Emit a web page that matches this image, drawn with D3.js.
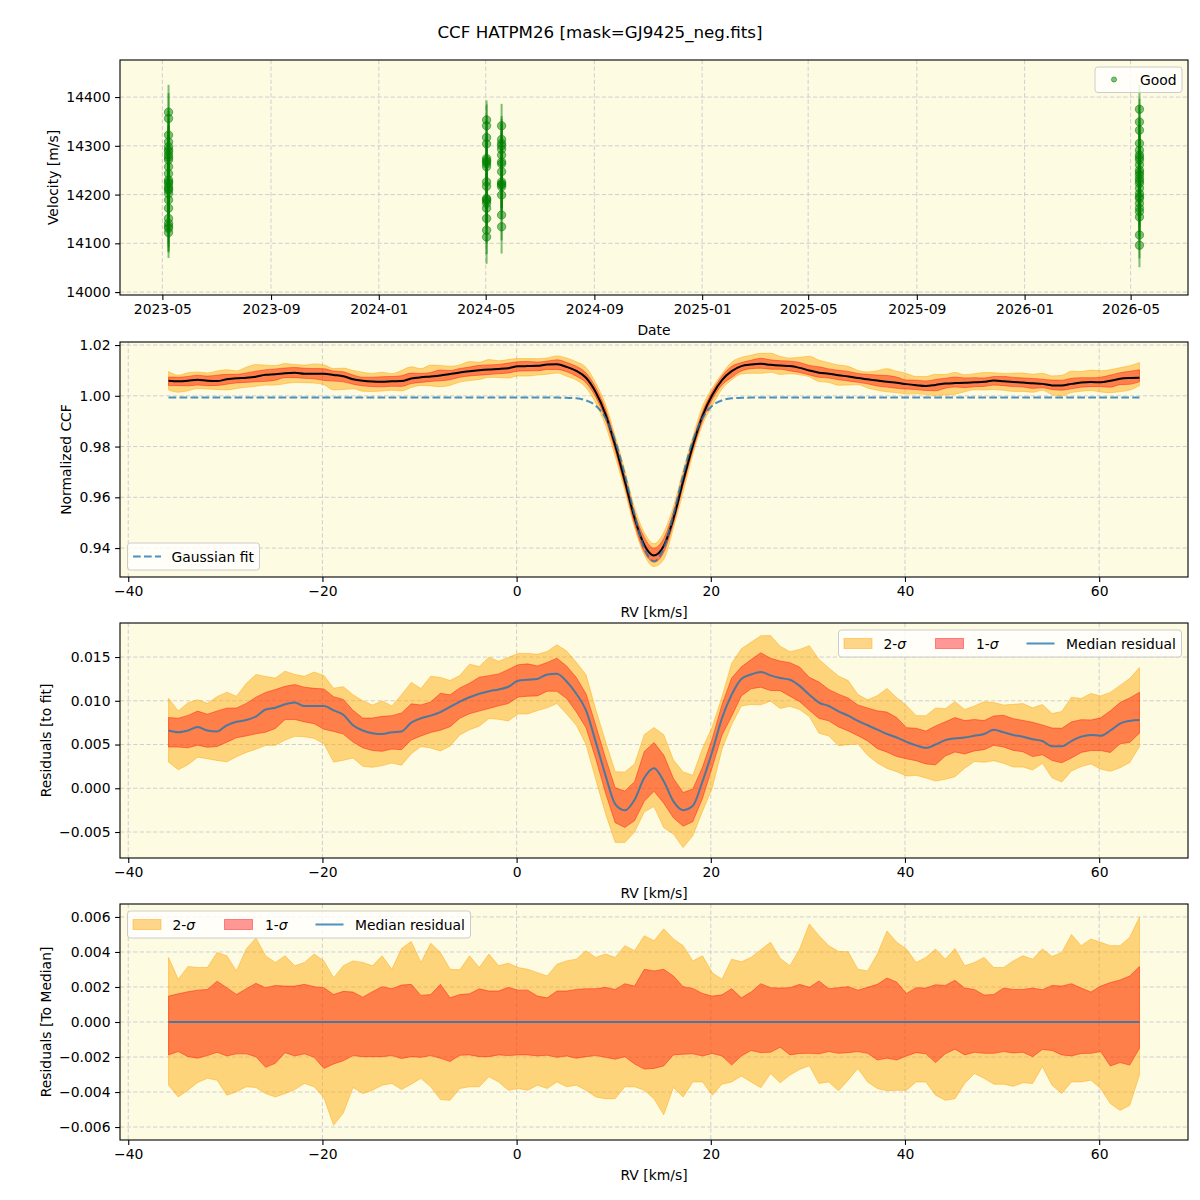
<!DOCTYPE html>
<html><head><meta charset="utf-8">
<script src="https://cdn.jsdelivr.net/npm/d3@7/dist/d3.min.js"></script>
<style>
html,body{margin:0;padding:0;background:#fff;}
svg{display:block;}
text{font-family:"DejaVu Sans",sans-serif;}
</style></head><body>
<svg id="chart" width="1200" height="1200"></svg>
<script>
// ================= DATA =================
const chartTitle = "CCF HATPM26 [mask=GJ9425_neg.fits]";
const epochDates = ["2023-05-08", "2024-05-02", "2024-05-19", "2026-05-11"];
const velEpoch1 = [14369,14356,14322,14308,14298,14292,14288,14281,14276,14271,14257,14243,14230,14226,14223,14216,14212,14209,14202,14189,14172,14151,14141,14135,14131,14122];
const errEpoch1 = [56,52,50,48,51,49,53,50,47,52,50,49,51,48,50,53,49,51,50,48,52,50,49,51,50,52];
const velEpoch2 = [14353,14341,14317,14304,14274,14270,14267,14263,14257,14226,14217,14192,14190,14187,14182,14172,14151,14127,14113];
const errEpoch2 = [40,44,46,48,50,47,52,49,51,48,50,53,49,51,48,50,52,49,55];
const velEpoch3 = [14341,14313,14305,14300,14293,14281,14267,14263,14247,14226,14222,14220,14216,14199,14158,14134];
const errEpoch3 = [45,48,50,47,52,49,51,48,50,53,49,51,50,48,52,55];
const velEpoch4 = [14375,14349,14332,14305,14291,14281,14276,14271,14261,14250,14245,14240,14233,14228,14223,14213,14202,14196,14192,14182,14172,14165,14154,14117,14096];
const errEpoch4 = [50,48,51,49,52,50,47,51,49,50,53,48,50,52,49,51,50,48,52,50,49,51,50,48,45];

const dateTickLabels = ["2023-05","2023-09","2024-01","2024-05","2024-09","2025-01","2025-05","2025-09","2026-01","2026-05"];
const velTicks = [14000,14100,14200,14300,14400];
const rvTicks = [-40,-20,0,20,40,60];
const ccfTicks = [0.94,0.96,0.98,1.00,1.02];
const resTicks = [-0.005,0.000,0.005,0.010,0.015];
const devTicks = [-0.006,-0.004,-0.002,0.000,0.002,0.004,0.006];

const rv = [-35.85,-34.85,-33.85,-32.85,-31.85,-30.85,-29.85,-28.85,-27.85,-26.85,
-25.85,-24.85,-23.85,-22.85,-21.85,-20.85,-19.85,-18.85,-17.85,-16.85,
-15.85,-14.85,-13.85,-12.85,-11.85,-10.85,-9.85,-8.85,-7.85,-6.85,
-5.85,-4.85,-3.85,-2.85,-1.85,-0.85,0.15,1.15,2.15,3.15,
4.15,5.15,6.15,7.15,8.15,9.15,10.15,11.15,12.15,13.15,
14.15,15.15,16.15,17.15,18.15,19.15,20.15,21.15,22.15,23.15,
24.15,25.15,26.15,27.15,28.15,29.15,30.15,31.15,32.15,33.15,
34.15,35.15,36.15,37.15,38.15,39.15,40.15,41.15,42.15,43.15,
44.15,45.15,46.15,47.15,48.15,49.15,50.15,51.15,52.15,53.15,
54.15,55.15,56.15,57.15,58.15,59.15,60.15,61.15,62.15,63.15,64.15];

const gaussFit = [0.9993,0.9993,0.9993,0.9993,0.9993,0.9993,0.9993,0.9993,0.9993,0.9993,
0.9993,0.9993,0.9993,0.9993,0.9993,0.9993,0.9993,0.9993,0.9993,0.9993,
0.9993,0.9993,0.9993,0.9993,0.9993,0.9993,0.9993,0.9993,0.9993,0.9993,
0.9993,0.9993,0.9993,0.9993,0.9993,0.9993,0.9993,0.9993,0.9993,0.9993,
0.9993,0.9992,0.9990,0.9982,0.9961,0.9913,0.9823,0.9688,0.9531,0.9400,
0.9348,0.9400,0.9531,0.9688,0.9823,0.9913,0.9961,0.9982,0.9990,0.9992,
0.9993,0.9993,0.9993,0.9993,0.9993,0.9993,0.9993,0.9993,0.9993,0.9993,
0.9993,0.9993,0.9993,0.9993,0.9993,0.9993,0.9993,0.9993,0.9993,0.9993,
0.9993,0.9993,0.9993,0.9993,0.9993,0.9993,0.9993,0.9993,0.9993,0.9993,
0.9993,0.9993,0.9993,0.9993,0.9993,0.9993,0.9993,0.9993,0.9993,0.9993,0.9993];

const resMedian = [0.0066,0.0064,0.0066,0.0070,0.0066,0.0065,0.0072,0.0076,0.0078,0.0082,
0.0090,0.0092,0.0096,0.0098,0.0094,0.0094,0.0094,0.0089,0.0084,0.0072,
0.0066,0.0063,0.0062,0.0064,0.0065,0.0075,0.0080,0.0083,0.0087,0.0093,
0.0099,0.0104,0.0108,0.0111,0.0113,0.0116,0.0123,0.0124,0.0125,0.0130,
0.0131,0.0122,0.0108,0.0089,0.0053,0.0015,-0.0018,-0.0025,-0.0013,0.0012,
0.0023,0.0008,-0.0015,-0.0025,-0.0020,0.0008,0.0042,0.0080,0.0107,0.0125,
0.0130,0.0133,0.0129,0.0126,0.0124,0.0117,0.0107,0.0098,0.0094,0.0088,
0.0083,0.0077,0.0072,0.0067,0.0062,0.0058,0.0053,0.0049,0.0046,0.0050,
0.0055,0.0057,0.0058,0.0060,0.0062,0.0067,0.0064,0.0061,0.0059,0.0056,
0.0054,0.0048,0.0048,0.0054,0.0059,0.0061,0.0060,0.0066,0.0074,0.0077,0.0078];

const dev2Upper = [0.00368,0.00244,0.00317,0.00311,0.00311,0.00397,0.00378,0.00292,0.00417,0.00480,
0.00378,0.00340,0.00378,0.00321,0.00340,0.00388,0.00349,0.00253,0.00321,0.00349,
0.00340,0.00321,0.00378,0.00301,0.00420,0.00460,0.00340,0.00450,0.00397,0.00301,
0.00298,0.00378,0.00311,0.00388,0.00321,0.00336,0.00311,0.00301,0.00282,0.00263,
0.00330,0.00349,0.00359,0.00407,0.00369,0.00388,0.00369,0.00436,0.00407,0.00493,
0.00464,0.00532,0.00474,0.00436,0.00349,0.00378,0.00282,0.00244,0.00359,0.00344,
0.00369,0.00413,0.00455,0.00363,0.00321,0.00417,0.00560,0.00493,0.00436,0.00403,
0.00401,0.00301,0.00292,0.00388,0.00520,0.00455,0.00417,0.00340,0.00369,0.00417,
0.00359,0.00420,0.00321,0.00340,0.00369,0.00311,0.00311,0.00349,0.00378,0.00359,
0.00417,0.00374,0.00397,0.00500,0.00436,0.00474,0.00455,0.00436,0.00436,0.00484,0.00599];

const dev1Upper = [0.00148,0.00161,0.00173,0.00182,0.00186,0.00233,0.00196,0.00157,0.00190,0.00221,
0.00196,0.00209,0.00205,0.00205,0.00215,0.00202,0.00196,0.00157,0.00175,0.00171,
0.00142,0.00173,0.00202,0.00190,0.00211,0.00215,0.00152,0.00157,0.00215,0.00138,
0.00157,0.00161,0.00190,0.00177,0.00177,0.00198,0.00182,0.00182,0.00148,0.00138,
0.00177,0.00177,0.00186,0.00190,0.00190,0.00198,0.00186,0.00219,0.00205,0.00301,
0.00292,0.00301,0.00263,0.00202,0.00192,0.00163,0.00148,0.00155,0.00190,0.00138,
0.00171,0.00219,0.00196,0.00194,0.00196,0.00215,0.00198,0.00234,0.00190,0.00196,
0.00202,0.00182,0.00198,0.00215,0.00251,0.00228,0.00163,0.00196,0.00194,0.00213,
0.00209,0.00238,0.00194,0.00186,0.00154,0.00157,0.00194,0.00186,0.00186,0.00194,
0.00184,0.00209,0.00205,0.00219,0.00194,0.00171,0.00205,0.00225,0.00240,0.00263,0.00317];

const dev1Lower = [-0.00188,-0.00169,-0.00198,-0.00207,-0.00192,-0.00173,-0.00194,-0.00182,-0.00182,-0.00198,
-0.00259,-0.00236,-0.00175,-0.00194,-0.00182,-0.00202,-0.00265,-0.00240,-0.00221,-0.00192,
-0.00198,-0.00198,-0.00198,-0.00192,-0.00209,-0.00198,-0.00202,-0.00192,-0.00207,-0.00226,
-0.00190,-0.00188,-0.00198,-0.00198,-0.00188,-0.00192,-0.00188,-0.00188,-0.00194,-0.00190,
-0.00202,-0.00194,-0.00207,-0.00198,-0.00192,-0.00202,-0.00213,-0.00198,-0.00240,-0.00269,
-0.00265,-0.00251,-0.00188,-0.00184,-0.00182,-0.00194,-0.00180,-0.00194,-0.00246,-0.00194,
-0.00163,-0.00175,-0.00173,-0.00144,-0.00188,-0.00180,-0.00179,-0.00182,-0.00169,-0.00179,
-0.00175,-0.00169,-0.00179,-0.00217,-0.00207,-0.00217,-0.00194,-0.00175,-0.00182,-0.00232,
-0.00182,-0.00155,-0.00188,-0.00173,-0.00179,-0.00179,-0.00169,-0.00177,-0.00173,-0.00198,
-0.00157,-0.00163,-0.00188,-0.00194,-0.00180,-0.00179,-0.00169,-0.00251,-0.00232,-0.00246,-0.00150];

const dev2Lower = [-0.00361,-0.00428,-0.00390,-0.00345,-0.00322,-0.00332,-0.00418,-0.00399,-0.00370,-0.00374,
-0.00409,-0.00428,-0.00409,-0.00386,-0.00351,-0.00370,-0.00432,-0.00590,-0.00520,-0.00374,
-0.00409,-0.00390,-0.00361,-0.00351,-0.00386,-0.00355,-0.00322,-0.00370,-0.00443,-0.00447,
-0.00380,-0.00370,-0.00370,-0.00313,-0.00342,-0.00390,-0.00380,-0.00390,-0.00361,-0.00380,
-0.00342,-0.00370,-0.00361,-0.00390,-0.00428,-0.00438,-0.00438,-0.00370,-0.00370,-0.00390,
-0.00438,-0.00530,-0.00374,-0.00428,-0.00342,-0.00342,-0.00418,-0.00355,-0.00342,-0.00309,
-0.00342,-0.00376,-0.00294,-0.00347,-0.00303,-0.00271,-0.00250,-0.00351,-0.00342,-0.00393,
-0.00332,-0.00265,-0.00342,-0.00380,-0.00393,-0.00390,-0.00390,-0.00342,-0.00342,-0.00418,
-0.00447,-0.00438,-0.00351,-0.00294,-0.00322,-0.00355,-0.00355,-0.00367,-0.00347,-0.00351,
-0.00255,-0.00361,-0.00409,-0.00342,-0.00342,-0.00332,-0.00380,-0.00466,-0.00505,-0.00476,-0.00303];

// ================= RENDER =================
const svg = d3.select("#chart");
const FONT = "DejaVu Sans";
const BG = "#fdfbe1";
const ORANGE = "#ffa500", RED = "#ff0000", BLUE = "#1f77b4", GREEN = "#008000";
const L = 120, R = 1188;
const panels = [{top:60,bottom:295},{top:342,bottom:577},{top:623,bottom:858},{top:904,bottom:1140}];

svg.append("rect").attr("width",1200).attr("height",1200).attr("fill","#fff");
svg.append("text").attr("x",600).attr("y",38).attr("text-anchor","middle")
  .attr("font-size","16.7px").attr("font-family",FONT).text(chartTitle);

const parse = d3.utcParse("%Y-%m-%d");
const parseMonth = d3.utcParse("%Y-%m");
const dates = epochDates.map(parse);
const dExt = d3.extent(dates);
const dPad = (dExt[1]-dExt[0])*0.05;
const xDate = d3.scaleUtc().domain([new Date(+dExt[0]-dPad), new Date(+dExt[1]+dPad)]).range([L,R]);
const rvExt = d3.extent(rv);
const rvPad = (rvExt[1]-rvExt[0])*0.05;
const xRV = d3.scaleLinear().domain([rvExt[0]-rvPad, rvExt[1]+rvPad]).range([L,R]);

function setupPanel(p, xs, ys, xTickVals, yTickVals) {
  svg.append("rect").attr("x",L).attr("y",p.top).attr("width",R-L).attr("height",p.bottom-p.top).attr("fill",BG);
  const grid = svg.append("g").attr("stroke","#c9c9d0").attr("stroke-width",0.9).attr("stroke-dasharray","4.2,2.4");
  xTickVals.forEach(v=>{const px=xs(v); grid.append("line").attr("x1",px).attr("x2",px).attr("y1",p.top).attr("y2",p.bottom);});
  yTickVals.forEach(v=>{const py=ys(v); grid.append("line").attr("x1",L).attr("x2",R).attr("y1",py).attr("y2",py);});
  const id = "clip"+p.top;
  svg.append("clipPath").attr("id",id).append("rect").attr("x",L).attr("y",p.top).attr("width",R-L).attr("height",p.bottom-p.top);
  return svg.append("g").attr("clip-path",`url(#${id})`);
}
function finishPanel(p, xs, ys, xTickVals, xFmt, yTickVals, yFmt, xLabel, yLabel, yLabX) {
  svg.append("rect").attr("x",L).attr("y",p.top).attr("width",R-L).attr("height",p.bottom-p.top)
    .attr("fill","none").attr("stroke","#000").attr("stroke-width",1.1);
  const ax = svg.append("g").attr("transform",`translate(0,${p.bottom})`)
    .call(d3.axisBottom(xs).tickValues(xTickVals).tickFormat(xFmt).tickSize(4.9).tickPadding(4.6));
  const ay = svg.append("g").attr("transform",`translate(${L},0)`)
    .call(d3.axisLeft(ys).tickValues(yTickVals).tickFormat(yFmt).tickSize(4.9).tickPadding(4.6));
  [ax,ay].forEach(a=>{
    a.select(".domain").remove();
    a.attr("font-size",13.9).attr("font-family",FONT);
    a.selectAll("line").attr("stroke","#000").attr("stroke-width",1.1);
    a.selectAll("text").attr("fill","#000");
  });
  svg.append("text").attr("x",(L+R)/2).attr("y",p.bottom+40).attr("text-anchor","middle")
    .attr("font-size","13.9px").attr("font-family",FONT).text(xLabel);
  const cy=(p.top+p.bottom)/2;
  svg.append("text").attr("transform",`translate(${yLabX},${cy}) rotate(-90)`).attr("text-anchor","middle")
    .attr("dominant-baseline","central").attr("font-size","13.9px").attr("font-family",FONT).text(yLabel);
}
function legendBox(x0,y0,x1,y1){
  svg.append("rect").attr("x",x0).attr("y",y0).attr("width",x1-x0).attr("height",y1-y0).attr("rx",3)
    .attr("fill","#fff").attr("fill-opacity",0.8).attr("stroke","#cccccc").attr("stroke-width",1);
}
function legendText(x,yc,str){
  svg.append("text").attr("x",x).attr("y",yc+5).attr("font-size","13.9px").attr("font-family",FONT).text(str);
}
function sigmaText(x,yc,n){
  const t=svg.append("text").attr("x",x).attr("y",yc+5).attr("font-size","13.9px").attr("font-family",FONT);
  t.append("tspan").text(n+"-");
  t.append("tspan").attr("font-style","italic").text("σ");
}
function patch(x,yc,color,fo){
  svg.append("rect").attr("x",x).attr("y",yc-5).attr("width",28).attr("height",10)
    .attr("fill",color).attr("fill-opacity",fo).attr("stroke",color).attr("stroke-opacity",fo).attr("stroke-width",1);
}
function bandLegend(x0,y0,x1){
  const yc=y0+13.5;
  legendBox(x0,y0,x1,y0+27);
  patch(x0+5.5,yc,ORANGE,0.45); sigmaText(x0+45,yc,2);
  patch(x0+97,yc,RED,0.4); sigmaText(x0+137.5,yc,1);
  svg.append("line").attr("x1",x0+188).attr("x2",x0+216).attr("y1",yc).attr("y2",yc)
    .attr("stroke",BLUE).attr("stroke-opacity",0.8).attr("stroke-width",2);
  legendText(x0+227.5,yc,"Median residual");
}

// ---------- Panel 1 ----------
const p1 = panels[0];
const yVel = d3.scaleLinear().domain([13994,14476]).range([p1.bottom,p1.top]);
const dateTicks = dateTickLabels.map(parseMonth);
const g1 = setupPanel(p1, xDate, yVel, dateTicks, velTicks);
const epochVels = [velEpoch1, velEpoch2, velEpoch3, velEpoch4];
const epochErrs = [errEpoch1, errEpoch2, errEpoch3, errEpoch4];
epochVels.forEach((vals,k)=>{
  const px = xDate(dates[k]);
  vals.forEach((v,j)=>{
    g1.append("line").attr("x1",px).attr("x2",px).attr("y1",yVel(v-epochErrs[k][j])).attr("y2",yVel(v+epochErrs[k][j]))
      .attr("stroke",GREEN).attr("stroke-opacity",0.5).attr("stroke-width",2);
  });
});
epochVels.forEach((vals,k)=>{
  const px = xDate(dates[k]);
  vals.forEach(v=>{
    g1.append("circle").attr("cx",px).attr("cy",yVel(v)).attr("r",4.2)
      .attr("fill",GREEN).attr("fill-opacity",0.5).attr("stroke",GREEN).attr("stroke-opacity",0.5).attr("stroke-width",1);
  });
});
finishPanel(p1, xDate, yVel, dateTicks, d3.utcFormat("%Y-%m"), velTicks, d3.format("d"), "Date", "Velocity [m/s]", 53);
legendBox(1095,67,1182,92.5);
svg.append("circle").attr("cx",1114).attr("cy",79.5).attr("r",2.6).attr("fill",GREEN).attr("fill-opacity",0.5)
  .attr("stroke",GREEN).attr("stroke-opacity",0.5).attr("stroke-width",1);
legendText(1140,79.5,"Good");

// derived series
const rows = rv.map((v,i)=>({
  rv:v, fit:gaussFit[i], med:resMedian[i],
  d2h:dev2Upper[i], d1h:dev1Upper[i], d1l:dev1Lower[i], d2l:dev2Lower[i]
}));
const curve = d3.curveMonotoneX;
const bandCurve = d3.curveLinear;

// ---------- Panel 2 ----------
const p2 = panels[1];
const yCCF = d3.scaleLinear().domain([0.9286,1.0212]).range([p2.bottom,p2.top]);
const g2 = setupPanel(p2, xRV, yCCF, rvTicks, ccfTicks);
g2.append("path").datum(rows).attr("d",d3.area().curve(curve).x(d=>xRV(d.rv))
  .y0(d=>yCCF(d.fit+d.med+d.d2l)).y1(d=>yCCF(d.fit+d.med+d.d2h)))
  .attr("fill",ORANGE).attr("fill-opacity",0.45).attr("stroke",ORANGE).attr("stroke-opacity",0.45).attr("stroke-width",1);
g2.append("path").datum(rows).attr("d",d3.area().curve(curve).x(d=>xRV(d.rv))
  .y0(d=>yCCF(d.fit+d.med+d.d1l)).y1(d=>yCCF(d.fit+d.med+d.d1h)))
  .attr("fill",RED).attr("fill-opacity",0.4).attr("stroke",RED).attr("stroke-opacity",0.4).attr("stroke-width",1);
g2.append("path").datum(rows).attr("d",d3.line().curve(curve).x(d=>xRV(d.rv)).y(d=>yCCF(d.fit+d.med)))
  .attr("fill","none").attr("stroke","#000").attr("stroke-width",2);
g2.append("path").datum(rows).attr("d",d3.line().curve(curve).x(d=>xRV(d.rv)).y(d=>yCCF(d.fit)))
  .attr("fill","none").attr("stroke",BLUE).attr("stroke-opacity",0.8).attr("stroke-width",2).attr("stroke-dasharray","7.7,3.3");
finishPanel(p2, xRV, yCCF, rvTicks, d3.format("d"), ccfTicks, d3.format(".2f"), "RV [km/s]", "Normalized CCF", 66);
legendBox(127.5,543,259.5,570);
svg.append("line").attr("x1",133).attr("x2",161).attr("y1",556.5).attr("y2",556.5)
  .attr("stroke",BLUE).attr("stroke-opacity",0.8).attr("stroke-width",2).attr("stroke-dasharray","7.7,3.3");
legendText(171.5,556.5,"Gaussian fit");

// ---------- Panel 3 ----------
const p3 = panels[2];
const yRes = d3.scaleLinear().domain([-0.00797,0.01889]).range([p3.bottom,p3.top]);
const g3 = setupPanel(p3, xRV, yRes, rvTicks, resTicks);
g3.append("path").datum(rows).attr("d",d3.area().curve(bandCurve).x(d=>xRV(d.rv))
  .y0(d=>yRes(d.med+d.d2l)).y1(d=>yRes(d.med+d.d2h)))
  .attr("fill",ORANGE).attr("fill-opacity",0.45).attr("stroke",ORANGE).attr("stroke-opacity",0.45).attr("stroke-width",1);
g3.append("path").datum(rows).attr("d",d3.area().curve(bandCurve).x(d=>xRV(d.rv))
  .y0(d=>yRes(d.med+d.d1l)).y1(d=>yRes(d.med+d.d1h)))
  .attr("fill",RED).attr("fill-opacity",0.4).attr("stroke",RED).attr("stroke-opacity",0.4).attr("stroke-width",1);
g3.append("path").datum(rows).attr("d",d3.line().curve(curve).x(d=>xRV(d.rv)).y(d=>yRes(d.med)))
  .attr("fill","none").attr("stroke",BLUE).attr("stroke-opacity",0.8).attr("stroke-width",2);
finishPanel(p3, xRV, yRes, rvTicks, d3.format("d"), resTicks, d3.format(".3f"), "RV [km/s]", "Residuals [to fit]", 46);
bandLegend(838.5,630,1181.5);

// ---------- Panel 4 ----------
const p4 = panels[3];
const yDev = d3.scaleLinear().domain([-0.00674,0.00674]).range([p4.bottom,p4.top]);
const g4 = setupPanel(p4, xRV, yDev, rvTicks, devTicks);
g4.append("path").datum(rows).attr("d",d3.area().curve(bandCurve).x(d=>xRV(d.rv))
  .y0(d=>yDev(d.d2l)).y1(d=>yDev(d.d2h)))
  .attr("fill",ORANGE).attr("fill-opacity",0.45).attr("stroke",ORANGE).attr("stroke-opacity",0.45).attr("stroke-width",1);
g4.append("path").datum(rows).attr("d",d3.area().curve(bandCurve).x(d=>xRV(d.rv))
  .y0(d=>yDev(d.d1l)).y1(d=>yDev(d.d1h)))
  .attr("fill",RED).attr("fill-opacity",0.4).attr("stroke",RED).attr("stroke-opacity",0.4).attr("stroke-width",1);
g4.append("path").datum(rows).attr("d",d3.line().x(d=>xRV(d.rv)).y(d=>yDev(d.med-d.med)))
  .attr("fill","none").attr("stroke",BLUE).attr("stroke-opacity",0.8).attr("stroke-width",2);
finishPanel(p4, xRV, yDev, rvTicks, d3.format("d"), devTicks, d3.format(".3f"), "RV [km/s]", "Residuals [To Median]", 46);
bandLegend(127.5,911,470.5);
</script></body></html>
